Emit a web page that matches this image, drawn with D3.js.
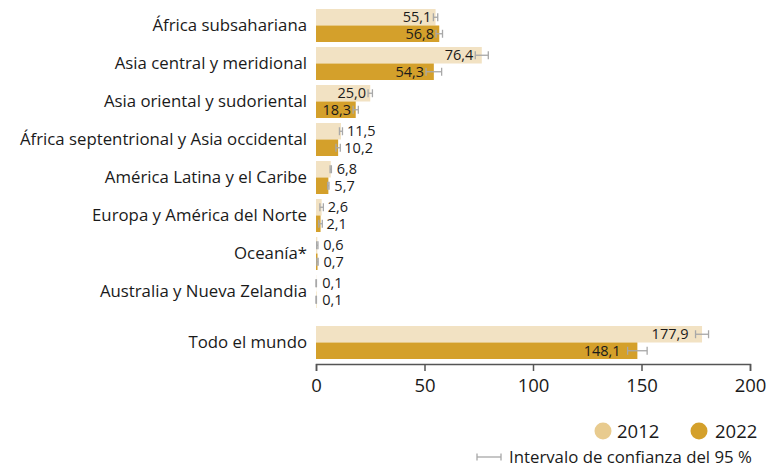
<!DOCTYPE html>
<html><head><meta charset="utf-8">
<script src="https://cdn.jsdelivr.net/npm/d3@7/dist/d3.min.js"></script>
<style>body{margin:0;background:#fff;} text{font-family:"Open Sans",sans-serif;}</style>
</head><body>
<svg id="c" width="774" height="467"></svg>
<script>
const categories = ["África subsahariana","Asia central y meridional","Asia oriental y sudoriental","África septentrional y Asia occidental","América Latina y el Caribe","Europa y América del Norte","Oceanía*","Australia y Nueva Zelandia","Todo el mundo"];
const labels2012 = ["55,1","76,4","25,0","11,5","6,8","2,6","0,6","0,1","177,9"];
const labels2022 = ["56,8","54,3","18,3","10,2","5,7","2,1","0,7","0,1","148,1"];
const values2012 = [55.1,76.4,25.0,11.5,6.8,2.6,0.6,0.1,177.9];
const values2022 = [56.8,54.3,18.3,10.2,5.7,2.1,0.7,0.1,148.1];
const ciHalf2012 = [1.0,3.0,1.0,0.7,0.3,0.8,0.3,0.1,3.0];
const ciHalf2022 = [1.5,3.6,1.2,1.0,0.3,0.8,0.3,0.1,4.5];
const seriesNames = ["2012","2022"];
const xTicks = [0,50,100,150,200];
const colors = {"2012":"#f2e2c3","2022":"#d4a02b"};
const legendColors = {"2012":"#e8cb8f","2022":"#d4a02b"};

const svg = d3.select("#c");
const x = d3.scaleLinear().domain([0,200]).range([316,750]);
const rowTop = i => 9 + i*38 + (i===8 ? 13 : 0);
const barH = 16.5;

const rows = categories.map((c,i)=>({c,i,
  s:[{name:"2012",v:values2012[i],h:ciHalf2012[i],l:labels2012[i]},
     {name:"2022",v:values2022[i],h:ciHalf2022[i],l:labels2022[i]}]}));

const g = svg.append("g");
rows.forEach(r=>{
  const top = rowTop(r.i);
  g.append("text").attr("x",307).attr("y",top+barH).attr("dy","0.35em")
    .attr("text-anchor","end").attr("font-size",16.8).attr("fill","#1a1a1a").text(r.c);
  r.s.forEach((d,k)=>{
    const y0 = top + k*barH;
    g.append("rect").attr("x",x(0)).attr("y",y0).attr("width",x(d.v)-x(0)).attr("height",barH)
      .attr("fill",colors[d.name]);
  });
  r.s.forEach((d,k)=>{
    const yc = top + k*barH + barH/2;
    const lo = x(d.v-d.h), hi = x(d.v+d.h);
    const eg = g.append("g").attr("stroke","#a8a8a8").attr("stroke-width",1.3);
    eg.append("line").attr("x1",lo).attr("x2",hi).attr("y1",yc).attr("y2",yc);
    eg.append("line").attr("x1",lo).attr("x2",lo).attr("y1",yc-4).attr("y2",yc+4);
    eg.append("line").attr("x1",hi).attr("x2",hi).attr("y1",yc-4).attr("y2",yc+4);
    const inside = d.v > 15;
    g.append("text").attr("font-size",14.5).attr("fill","#1a1a1a")
      .attr("x", inside ? lo-2 - (d.v>100?5:0) : Math.max(hi+4, x(d.v)+6))
      .attr("y",yc).attr("dy","0.36em")
      .attr("text-anchor", inside ? "end" : "start").text(d.l);
  });
});

const axisY = 364;
const ax = svg.append("g").attr("transform",`translate(0,${axisY})`)
  .call(d3.axisBottom(x).tickValues(xTicks).tickSize(7).tickPadding(8).tickFormat(d3.format("d")));
ax.select(".domain").attr("stroke","#555").attr("stroke-width",1.5);
ax.selectAll(".tick line").attr("stroke","#555").attr("stroke-width",1.5);
ax.selectAll(".tick text").attr("font-size",18.5).attr("fill","#1a1a1a").attr("font-family","'Open Sans',sans-serif");

const leg = svg.append("g");
[["2012",603,617],["2022",699,715]].forEach(([n,cx,tx])=>{
  leg.append("circle").attr("cx",cx).attr("cy",431).attr("r",8.5).attr("fill",legendColors[n]);
  leg.append("text").attr("x",tx).attr("y",431).attr("dy","0.36em").attr("font-size",18.5).attr("fill","#1a1a1a").text(n);
});
const lg = leg.append("g").attr("stroke","#a8a8a8").attr("stroke-width",1.3);
lg.append("line").attr("x1",477).attr("x2",501).attr("y1",457).attr("y2",457);
lg.append("line").attr("x1",477).attr("x2",477).attr("y1",453.5).attr("y2",460.5);
lg.append("line").attr("x1",501).attr("x2",501).attr("y1",453.5).attr("y2",460.5);
leg.append("text").attr("x",509).attr("y",457).attr("dy","0.36em").attr("font-size",16.8).attr("fill","#1a1a1a").text("Intervalo de confianza del 95 %");
</script>
</body></html>
